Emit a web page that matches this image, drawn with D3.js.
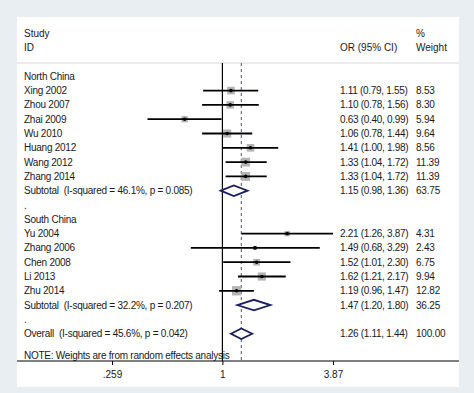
<!DOCTYPE html>
<html><head><meta charset="utf-8">
<script src="https://cdn.jsdelivr.net/npm/d3@7"></script>
<style>
html,body{margin:0;padding:0;background:#e9eef2;}
text{font-family:Arial,"Liberation Sans",sans-serif;font-size:10px;fill:#1a1a1a;white-space:pre;}
</style></head>
<body><svg id="chart" width="474" height="393"></svg>
<script>
// ---- data ----
const northStudies = ["Xing 2002","Zhou 2007","Zhai 2009","Wu 2010","Huang 2012","Wang 2012","Zhang 2014"];
const northOR = [1.11,1.10,0.63,1.06,1.41,1.33,1.33];
const northLo = [0.79,0.78,0.40,0.78,1.00,1.04,1.04];
const northHi = [1.55,1.56,0.99,1.44,1.98,1.72,1.72];
const northW  = [8.53,8.30,5.94,9.64,8.56,11.39,11.39];
const northSub = {label:"Subtotal  (I-squared = 46.1%, p = 0.085)", or:1.15, lo:0.98, hi:1.36, w:63.75};

const southStudies = ["Yu 2004","Zhang 2006","Chen 2008","Li 2013","Zhu 2014"];
const southOR = [2.21,1.49,1.52,1.62,1.19];
const southLo = [1.26,0.68,1.01,1.21,0.96];
const southHi = [3.87,3.29,2.30,2.17,1.47];
const southW  = [4.31,2.43,6.75,9.94,12.82];
const southSub = {label:"Subtotal  (I-squared = 32.2%, p = 0.207)", or:1.47, lo:1.20, hi:1.80, w:36.25};

const overall = {label:"Overall  (I-squared = 45.6%, p = 0.042)", or:1.26, lo:1.11, hi:1.44, w:100.00};
const groupNames = ["North China","South China"];
const tickValues = [0.259, 1, 3.87];
const tickLabels = [".259", "1", "3.87"];
const noteText = "NOTE: Weights are from random effects analysis";

// ---- build rows ----
const rows = [];
function addGroup(name, st, or, lo, hi, w, sub){
  rows.push({type:"head", label:name});
  st.forEach((s,i)=>rows.push({type:"study", label:s, or:or[i], lo:lo[i], hi:hi[i], w:w[i]}));
  rows.push(Object.assign({type:"sub"}, sub));
  rows.push({type:"blank", label:"."});
}
addGroup(groupNames[0], northStudies, northOR, northLo, northHi, northW, northSub);
addGroup(groupNames[1], southStudies, southOR, southLo, southHi, southW, southSub);
rows.push(Object.assign({type:"sub"}, overall));
rows.forEach((r,i)=>r.i=i);

const fmt = d3.format(".2f");
const svg = d3.select("#chart");

// panel
const panel = {x0:17, y0:17, x1:459, y1:387};
svg.append("rect").attr("x",panel.x0).attr("y",panel.y0)
  .attr("width",panel.x1-panel.x0).attr("height",panel.y1-panel.y0).attr("fill","#fff");

const x = d3.scaleLog().domain([tickValues[0], tickValues[2]]).range([112, 333]);
const y = d3.scaleLinear().domain([0, 18]).range([76.3, 333.7]);
const sepY = 63, axisY = 361;
const colText = 24, colOR = 340, colW = 416;

// header
svg.append("text").attr("x",colText).attr("y",33).attr("dy","0.35em").text("Study");
svg.append("text").attr("x",colText).attr("y",47).attr("dy","0.35em").text("ID");
svg.append("text").attr("x",colOR).attr("y",47).attr("dy","0.35em").text("OR (95% CI)");
svg.append("text").attr("x",colW).attr("y",33).attr("dy","0.35em").text("%");
svg.append("text").attr("x",colW).attr("y",47).attr("dy","0.35em").text("Weight");
svg.append("line").attr("x1",panel.x0).attr("x2",panel.x1).attr("y1",sepY).attr("y2",sepY)
  .attr("stroke","#d8d8d8").attr("stroke-width",1);

// reference lines
svg.append("line").attr("x1",x(1)).attr("x2",x(1)).attr("y1",sepY).attr("y2",axisY)
  .attr("stroke","#000").attr("stroke-width",1.2);
svg.append("line").attr("x1",x(overall.or)).attr("x2",x(overall.or)).attr("y1",sepY).attr("y2",axisY)
  .attr("stroke","#5a5060").attr("stroke-width",1).attr("stroke-dasharray","3,3");

// labels
svg.selectAll("text.lab").data(rows).join("text").attr("class","lab")
  .attr("x",colText).attr("y",d=>y(d.i)).attr("dy","0.35em").style("letter-spacing","-0.25px")
  .text(d=>d.label);

const est = rows.filter(d=>d.type==="study"||d.type==="sub");
svg.selectAll("text.ci").data(est).join("text").attr("class","ci")
  .attr("x",colOR).attr("y",d=>y(d.i)).attr("dy","0.35em").style("letter-spacing","-0.3px")
  .text(d=>`${fmt(d.or)} (${fmt(d.lo)}, ${fmt(d.hi)})`);
svg.selectAll("text.wt").data(est).join("text").attr("class","wt")
  .attr("x",colW).attr("y",d=>y(d.i)).attr("dy","0.35em").style("letter-spacing","-0.2px")
  .text(d=>fmt(d.w));

// studies
const st = rows.filter(d=>d.type==="study");
svg.selectAll("rect.box").data(st).join("rect").attr("class","box")
  .attr("x",d=>x(d.or)-1.3*Math.sqrt(d.w)).attr("y",d=>y(d.i)-1.3*Math.sqrt(d.w))
  .attr("width",d=>2.6*Math.sqrt(d.w)).attr("height",d=>2.6*Math.sqrt(d.w))
  .attr("fill","#b4b4b4");
svg.selectAll("line.ci").data(st).join("line").attr("class","ci")
  .attr("x1",d=>x(d.lo)).attr("x2",d=>x(d.hi)).attr("y1",d=>y(d.i)).attr("y2",d=>y(d.i))
  .attr("stroke","#000").attr("stroke-width",1.8);
svg.selectAll("circle.pt").data(st).join("circle").attr("class","pt")
  .attr("cx",d=>x(d.or)).attr("cy",d=>y(d.i)).attr("r",1.8).attr("fill","#000");

// diamonds
const subs = rows.filter(d=>d.type==="sub");
svg.selectAll("path.dia").data(subs).join("path").attr("class","dia")
  .attr("d",d=>{const c=y(d.i), h=5.3;
    return `M${x(d.lo)},${c}L${x(d.or)},${c-h}L${x(d.hi)},${c}L${x(d.or)},${c+h}Z`;})
  .attr("fill","#fff").attr("stroke","#1b1f5e").attr("stroke-width",1.8);

// note
svg.append("text").attr("x",colText).attr("y",y(19.5)).attr("dy","0.35em")
  .style("letter-spacing","-0.25px").text(noteText);

// axis
svg.append("line").attr("x1",panel.x0).attr("x2",panel.x1).attr("y1",axisY).attr("y2",axisY)
  .attr("stroke","#000").attr("stroke-width",1);
const ax = svg.append("g").attr("transform",`translate(0,${axisY})`)
  .call(d3.axisBottom(x).tickValues(tickValues).tickSize(4).tickPadding(6)
    .tickFormat((d,i)=>tickLabels[i]));
ax.select(".domain").remove();
ax.selectAll("text").style("font-size","10px").attr("fill","#1a1a1a")
  .style("font-family",'Arial,"Liberation Sans",sans-serif');
</script></body></html>
